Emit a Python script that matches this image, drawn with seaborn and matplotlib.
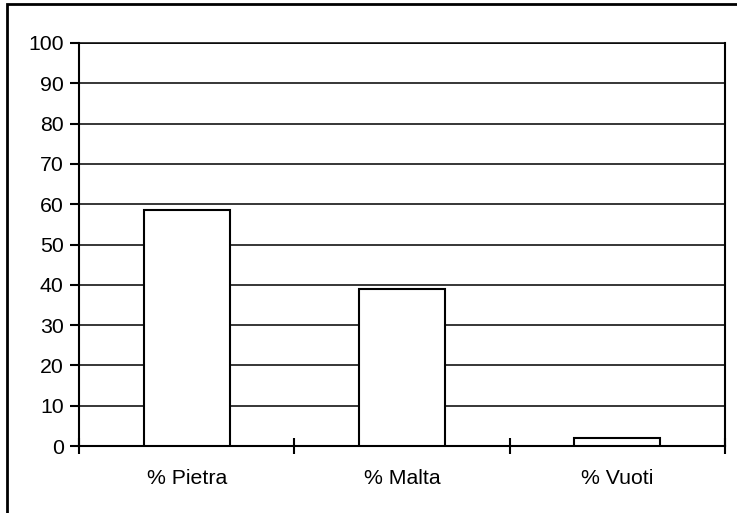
import matplotlib
matplotlib.use('Agg')
import matplotlib.pyplot as plt
import seaborn as sns
import pandas as pd
from matplotlib.patches import Rectangle

categories = ['% Pietra', '% Malta', '% Vuoti']
values = [58.5, 39.0, 2.0]
yticks = [0, 10, 20, 30, 40, 50, 60, 70, 80, 90, 100]

df = pd.DataFrame({'cat': categories, 'val': values})

sns.set_style('white')
plt.rcParams['font.family'] = ['Liberation Sans', 'DejaVu Sans']

fig = plt.figure(figsize=(7.37, 5.13), dpi=100)
ax = fig.add_axes([79 / 737, (513 - 446) / 513, (725 - 79) / 737, (446 - 43) / 513])

sns.barplot(data=df, x='cat', y='val', color='white', edgecolor='black',
            linewidth=1.5, width=0.4, saturation=1, ax=ax, zorder=3)

ax.set_xlim(-0.5, 2.5)
ax.set_ylim(0, 100)
ax.set_yticks(yticks)
for y in yticks[1:]:
    ax.axhline(y, color='black', lw=1.1, zorder=1)

ax.set_xticks([0, 1, 2])
ax.set_xticklabels(categories)
ax.set_xticks([-0.5, 0.5, 1.5, 2.5], minor=True)
ax.tick_params(axis='x', which='both', bottom=True)
ax.tick_params(axis='y', which='both', left=True)
ax.tick_params(axis='x', which='major', length=0, pad=16.5, labelsize=15.3, colors='black')
ax.tick_params(axis='x', which='minor', direction='inout', length=12, width=1.5, color='black')
ax.tick_params(axis='y', direction='out', length=6.5, width=1.5, pad=4.5, labelsize=15.3, colors='black')

for side in ['left', 'bottom', 'right', 'top']:
    ax.spines[side].set_visible(True)
    ax.spines[side].set_color('black')
    ax.spines[side].set_linewidth(1.5)
ax.spines['top'].set_linewidth(1.1)

ax.set_xlabel('')
ax.set_ylabel('')

frame = Rectangle((7 / 737, -0.2), 2, 1 - 4 / 513 + 0.2, transform=fig.transFigure,
                  fill=False, edgecolor='black', lw=2)
fig.patches.append(frame)

fig.savefig('out.png', dpi=100)
plt.close()
